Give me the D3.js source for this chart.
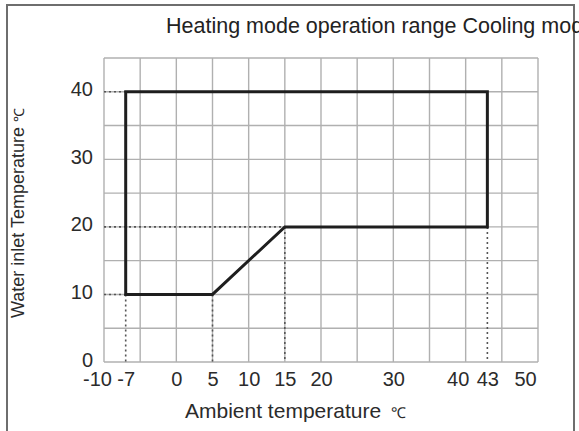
<!DOCTYPE html>
<html>
<head>
<meta charset="utf-8">
<script src="https://cdn.jsdelivr.net/npm/d3@7"></script>
<style>
    body { margin: 0; background: #fff; }
    svg { display: block; font-family: "Liberation Sans", Arial, sans-serif; }
</style>
</head>
<body>
<svg id="chart" width="579" height="431"></svg>
<script>
// operating envelope, clockwise from the bottom left corner
const envelopeAmbient = [-7, 5, 15, 43, 43, -7];
const envelopeWater = [10, 10, 20, 20, 40, 40];

// dotted drop lines down to the x axis
const dropAmbient = [-7, 5, 15, 43];
const dropWater = [10, 10, 20, 20];

// dotted leaders from the y axis
const leaderWater = [40, 10, 20];
const leaderAmbient = [-7, -7, 15];

const xTicks = [-10, -7, 0, 5, 10, 15, 20, 30, 40, 43, 50];
const yTicks = [0, 10, 20, 30, 40];
const xGrid = d3.range(-10, 51, 5);
const yGrid = d3.range(0, 46, 5);

const title = "Heating mode operation range Cooling mode";
const xTitle = "Ambient temperature ";
const yTitle = "Water inlet Temperature ";
const unit = "℃";

const svg = d3.select("#chart");

const x = d3.scaleLinear().domain([-10, 50]).range([104, 538]);
const y = d3.scaleLinear().domain([0, 45]).range([362, 58]);

// outer frame
svg.append("rect")
    .attr("x", 7)
    .attr("y", 5)
    .attr("width", 567)
    .attr("height", 460)
    .attr("fill", "none")
    .attr("stroke", "#6e6e6e")
    .attr("stroke-width", 2);

svg.append("text")
    .attr("x", 166)
    .attr("y", 33)
    .attr("font-size", 21.5)
    .attr("fill", "#222")
    .text(title);

// grid
const grid = svg.append("g")
    .attr("stroke", "#b0b0b0")
    .attr("stroke-width", 1.4);

grid.selectAll("line.v")
    .data(xGrid)
    .join("line")
    .attr("class", "v")
    .attr("x1", d => x(d))
    .attr("x2", d => x(d))
    .attr("y1", y(0))
    .attr("y2", y(45));

grid.selectAll("line.h")
    .data(yGrid)
    .join("line")
    .attr("class", "h")
    .attr("x1", x(-10))
    .attr("x2", x(50))
    .attr("y1", d => y(d))
    .attr("y2", d => y(d));

// dotted guides
const guides = svg.append("g")
    .attr("stroke", "#555")
    .attr("stroke-width", 1.6)
    .attr("stroke-dasharray", "2,3");

guides.selectAll("line.drop")
    .data(dropAmbient)
    .join("line")
    .attr("class", "drop")
    .attr("x1", d => x(d))
    .attr("x2", d => x(d))
    .attr("y1", (d, i) => y(dropWater[i]))
    .attr("y2", y(0));

guides.selectAll("line.leader")
    .data(leaderWater)
    .join("line")
    .attr("class", "leader")
    .attr("x1", x(-10))
    .attr("x2", (d, i) => x(leaderAmbient[i]))
    .attr("y1", d => y(d))
    .attr("y2", d => y(d));

// envelope
const envelope = envelopeAmbient.map((t, i) => [t, envelopeWater[i]]);

svg.append("path")
    .datum(envelope)
    .attr("d", d3.line().x(d => x(d[0])).y(d => y(d[1])).curve(d3.curveLinearClosed))
    .attr("fill", "none")
    .attr("stroke", "#1e1e1e")
    .attr("stroke-width", 3)
    .attr("stroke-linejoin", "miter");

// axes
const labelNudge = { "-10": -7, "40": -8, "50": -13 };

const xAxis = svg.append("g")
    .attr("transform", `translate(0, ${y(0)})`)
    .call(d3.axisBottom(x).tickValues(xTicks).tickSize(0).tickPadding(10).tickFormat(d => String(d)));

xAxis.select(".domain").remove();
xAxis.selectAll("text")
    .attr("font-size", 20)
    .attr("font-family", "Liberation Sans, Arial, sans-serif")
    .attr("fill", "#2b2b2b")
    .attr("dx", d => labelNudge[d] || 0);

const yAxis = svg.append("g")
    .attr("transform", `translate(${x(-10)}, 0)`)
    .call(d3.axisLeft(y).tickValues(yTicks).tickSize(0).tickPadding(11).tickFormat(d => String(d)));

yAxis.select(".domain").remove();
yAxis.selectAll("text")
    .attr("font-size", 20)
    .attr("font-family", "Liberation Sans, Arial, sans-serif")
    .attr("fill", "#2b2b2b")
    .attr("dy", "0.2em");

// axis titles
const xLabel = svg.append("text")
    .attr("x", 185)
    .attr("y", 418)
    .attr("font-size", 21)
    .attr("fill", "#2b2b2b");
xLabel.append("tspan").text(xTitle);
xLabel.append("tspan")
    .attr("dx", 4)
    .attr("font-size", 15)
    .text(unit);

const yLabel = svg.append("text")
    .attr("transform", "translate(24, 318) rotate(-90)")
    .attr("font-size", 18)
    .attr("fill", "#2b2b2b");
yLabel.append("tspan").text(yTitle);
yLabel.append("tspan")
    .attr("font-size", 14)
    .text(unit);
</script>
</body>
</html>
